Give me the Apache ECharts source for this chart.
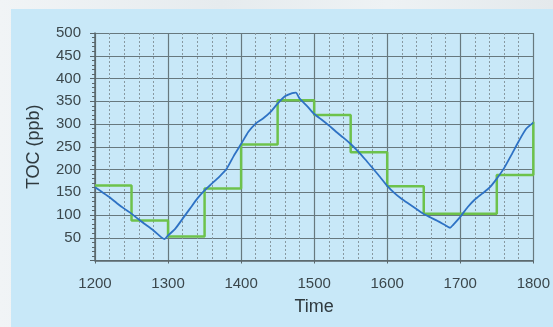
<!DOCTYPE html>
<html>
<head>
<meta charset="utf-8">
<script src="https://cdn.jsdelivr.net/npm/echarts@6/dist/echarts.min.js"></script>
<style>
html,body{margin:0;padding:0;}
body{width:553px;height:327px;overflow:hidden;background:linear-gradient(90deg,#f1f4f6 0%,#e6ebee 40%,#eef2f4 70%,#e4e9ec 100%);}
#chart{width:553px;height:327px;}
</style>
</head>
<body>
<div id="chart"></div>
<script>
// TOC measured (blue), [time, ppb]
const measuredTime = [1200,1210,1220,1230,1240,1250,1260,1270,1280,1290,1295,1300,1310,1320,1330,1340,1350,1360,1370,1380,1390,1400,1410,1420,1430,1440,1450,1460,1470,1475,1480,1490,1500,1510,1520,1530,1540,1550,1560,1570,1580,1590,1600,1610,1620,1630,1640,1650,1660,1670,1680,1686,1690,1700,1710,1720,1730,1740,1750,1760,1770,1780,1790,1800];
const measuredTOC  = [161,150,139,126,114,103,90,78,66,52,47,55,70,92,114,136,154,169,184,201,230,256,283,301,312,326,345,361,368,369,356,340,322,310,297,283,270,256,240,222,203,184,164,148,135,124,113,102,94,86,77,72,78,96,117,134,147,160,180,203,232,262,289,303];
// Step setpoint (green)
const stepTime = [1200,1250,1300,1350,1400,1450,1500,1550,1600,1650,1700,1750,1800];
const stepTOC  = [165,88,53,158,255,352,320,238,163,103,103,188,305];
const xTicks = {min:1200, max:1800, interval:100};
const yTicks = {min:0, max:500, interval:50};

const chart = echarts.init(document.getElementById('chart'), null, {renderer:'canvas'});
const labelColor = '#3b474c';
const font = '"Liberation Sans", Arial, sans-serif';
chart.setOption({
  animation:false,
  graphic:[{type:'rect', shape:{x:11,y:9,width:542,height:318}, style:{fill:'#c8e8f8'}, z:-10}],
  grid:{left:95, top:33, right:17, bottom:66.5, containLabel:false},
  xAxis:{
    type:'value', min:xTicks.min, max:xTicks.max, interval:xTicks.interval,
    name:'Time', nameLocation:'middle', nameGap:38,
    nameTextStyle:{fontFamily:font, fontSize:18, color:'#2f3a3f'},
    axisLine:{show:true, onZero:false, lineStyle:{color:'#59666b', width:1.5}},
    axisTick:{show:true, length:3, lineStyle:{color:'#59666b'}},
    axisLabel:{margin:16, fontFamily:font, fontSize:15, color:labelColor,
      formatter:v=> String(v)},
    splitLine:{show:true, lineStyle:{color:'#67787e', width:1.2}},
    minorTick:{show:false, splitNumber:5},
    minorSplitLine:{show:true, lineStyle:{color:'#8798a0', width:1, type:[2,2]}}
  },
  yAxis:{
    type:'value', min:yTicks.min, max:yTicks.max, interval:yTicks.interval,
    name:'TOC (ppb)', nameLocation:'middle', nameGap:52,
    nameTextStyle:{fontFamily:font, fontSize:18, color:'#2f3a3f'},
    axisLine:{show:true, lineStyle:{color:'#59666b', width:1.5}},
    axisTick:{show:true, length:5, lineStyle:{color:'#59666b'}},
    minorTick:{show:true, splitNumber:5, length:3, lineStyle:{color:'#59666b'}},
    axisLabel:{margin:14, fontFamily:font, fontSize:15, color:labelColor,
      formatter:v=> v===0 ? '' : String(v)},
    splitLine:{show:true, lineStyle:{color:'#67787e', width:1.2}}
  },
  series:[
    {type:'line', name:'setpoint', step:'end', showSymbol:false,
     data:stepTime.map((t,i)=>[t,stepTOC[i]]),
     lineStyle:{color:'#6dc24b', width:2.5}, z:2},
    {type:'line', name:'TOC', showSymbol:false, smooth:0.2,
     data:measuredTime.map((t,i)=>[t,measuredTOC[i]]),
     lineStyle:{color:'#2e72c4', width:1.8}, z:3}
  ]
});
</script>
</body>
</html>
